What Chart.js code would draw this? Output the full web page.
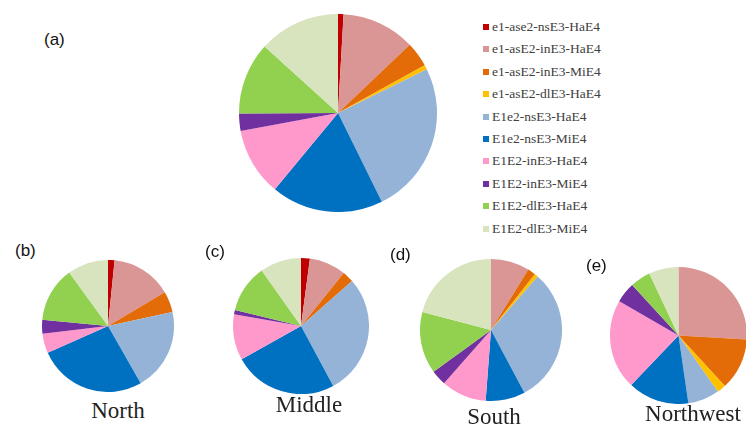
<!DOCTYPE html>
<html>
<head>
<meta charset="utf-8">
<script src="https://cdn.jsdelivr.net/npm/chart.js@4.4.0/dist/chart.umd.min.js"></script>
<style>
  body { margin: 0; background: #fff; }
  #wrap { position: relative; width: 746px; height: 427px; overflow: hidden; }
  canvas { position: absolute; }
  .tag { position: absolute; font-family: "Liberation Sans", Arial, sans-serif; font-size: 17px; line-height: 20px; color: #111; }
  .cap { position: absolute; font-family: "Liberation Serif", "Times New Roman", serif; font-size: 23px; line-height: 23px; color: #222; transform: translateX(-50%); white-space: nowrap; }
  .leg { position: absolute; left: 483px; height: 16px; line-height: 16px; font-family: "Liberation Serif", "Times New Roman", serif; font-size: 13.5px; color: #404040; white-space: nowrap; }
  .leg i { display: inline-block; width: 6px; height: 6px; margin-right: 3px; vertical-align: 1px; }
</style>
</head>
<body>
<div id="wrap">
  <canvas id="pieA" width="198" height="198" style="left:239px;top:14px"></canvas>
  <canvas id="pieB" width="132" height="132" style="left:42px;top:260px"></canvas>
  <canvas id="pieC" width="136" height="136" style="left:233px;top:258px"></canvas>
  <canvas id="pieD" width="142" height="142" style="left:420px;top:259px"></canvas>
  <canvas id="pieE" width="137" height="137" style="left:610px;top:267px"></canvas>

  <div class="tag" style="left:44px;top:30px">(a)</div>
  <div class="tag" style="left:15px;top:241px">(b)</div>
  <div class="tag" style="left:205px;top:242px">(c)</div>
  <div class="tag" style="left:390px;top:245px">(d)</div>
  <div class="tag" style="left:586px;top:256px">(e)</div>

  <div class="cap" style="left:118px;top:399px">North</div>
  <div class="cap" style="left:309px;top:393px">Middle</div>
  <div class="cap" style="left:494px;top:405px">South</div>
  <div class="cap" style="left:693px;top:402px">Northwest</div>

  <div id="legend"></div>
</div>
<script>
const categories = ['e1-ase2-nsE3-HaE4', 'e1-asE2-inE3-HaE4', 'e1-asE2-inE3-MiE4', 'e1-asE2-dlE3-HaE4',
  'E1e2-nsE3-HaE4', 'E1e2-nsE3-MiE4', 'E1E2-inE3-HaE4', 'E1E2-inE3-MiE4', 'E1E2-dlE3-HaE4', 'E1E2-dlE3-MiE4']
const colors = ['#C00000', '#D99694', '#E36C09', '#FFC000', '#95B3D7', '#0070C0', '#FF99CC', '#7030A0', '#92D050', '#D7E4BD']

// shares in %
const overall   = [0.9, 12.0, 4.1, 0.7, 25.0, 18.3, 11.1, 2.8, 11.8, 13.3]
const north     = [1.6, 14.9, 5.1, 0, 20.2, 26.6, 4.8, 3.4, 13.5, 10.0]
const middle    = [2.1, 8.7, 2.7, 0, 28.6, 24.7, 10.9, 1.0, 11.4, 9.8]
const south     = [0, 8.8, 1.8, 0.8, 30.8, 9.0, 10.3, 3.5, 14.1, 20.9]
const northwest = [0, 25.9, 12.2, 2.1, 7.4, 14.4, 21.2, 4.8, 4.8, 7.0]

function makePie(id, values) {
  new Chart(document.getElementById(id), {
    type: 'pie',
    data: {
      labels: categories,
      datasets: [{ data: values, backgroundColor: colors, borderWidth: 0 }]
    },
    options: {
      responsive: false,
      animation: false,
      layout: { padding: 0 },
      plugins: { legend: { display: false }, tooltip: { enabled: false } }
    }
  })
}

makePie('pieA', overall)
makePie('pieB', north)
makePie('pieC', middle)
makePie('pieD', south)
makePie('pieE', northwest)

const legend = document.getElementById('legend')
categories.forEach((c, i) => {
  const row = document.createElement('div')
  row.className = 'leg'
  row.style.top = (19 + i * 22.4) + 'px'
  row.innerHTML = '<i style="background:' + colors[i] + '"></i>' + c
  legend.appendChild(row)
})
</script>
</body>
</html>
